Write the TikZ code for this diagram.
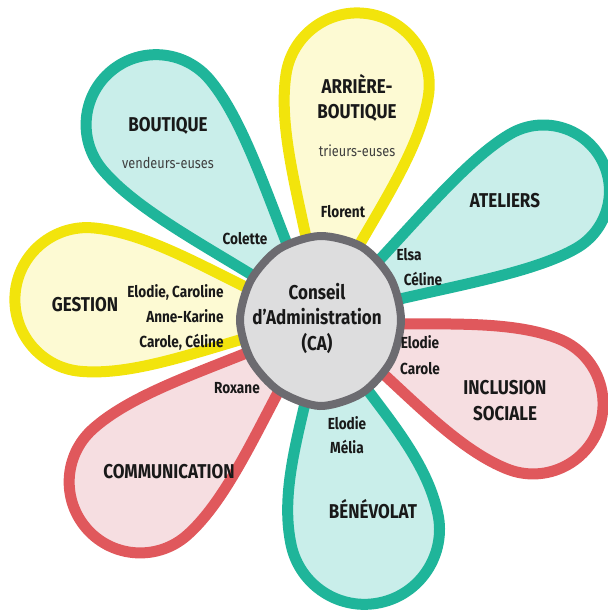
\documentclass[tikz,border=0pt]{standalone}
\usepackage{fontspec}
\setmainfont{Fira Sans}[FakeStretch=0.85]
\usetikzlibrary{positioning}
\definecolor{bleubord}{HTML}{1FB59A}
\definecolor{bleufond}{HTML}{C9EEEA}
\definecolor{jaunebord}{HTML}{F2E40C}
\definecolor{jaunefond}{HTML}{FDFAD3}
\definecolor{rougebord}{HTML}{E0585C}
\definecolor{rougefond}{HTML}{F6DEE1}
\definecolor{grisbord}{HTML}{6C6B70}
\definecolor{grisfond}{HTML}{DDDDDE}
\tikzset{
  every node/.style={text=black!90, inner sep=0pt, text height=0.75em, text depth=0.25em},
  petale/.style={line width=5.5pt, line join=round},
  bleu/.style={petale, draw=bleubord, fill=bleufond},
  jaune/.style={petale, draw=jaunebord, fill=jaunefond},
  rouge/.style={petale, draw=rougebord, fill=rougefond},
  coeur/.style={draw=grisbord, fill=grisfond, line width=4pt},
  titre/.style={font=\bfseries\fontsize{10}{12}\selectfont},
  membre/.style={font=\bfseries\fontsize{8}{10}\selectfont},
  role/.style={font=\fontsize{7.5}{9}\selectfont, text=black!75}
}
% petale: angle, distance, rayon, style
\newcommand{\petale}[4]{%
  \begin{scope}[shift={(320,320)}, rotate=#1]
    \filldraw[#4] (0,0) .. controls (0.35*#2, 0.3*#3) and (#2-0.95*#3, #3) .. (#2, #3)
      arc[start angle=90, end angle=-90, radius=#3]
      .. controls (#2-0.95*#3, -#3) and (0.35*#2, -0.3*#3) .. cycle;
  \end{scope}}

\begin{document}
\begin{tikzpicture}[x=0.5pt, y=-0.5pt]
  \useasboundingbox (0,0) rectangle (608,612);
  % Petales
  \petale{30}{258}{66}{bleu}
  \petale{-21.5}{229}{70}{rouge}
  \petale{-78}{214}{75}{bleu}
  \petale{175}{234}{72}{jaune}
  \petale{-138}{242}{71}{rouge}
  \petale{81}{238}{72}{jaune}
  \petale{130}{255}{70}{bleu}
  % Coeur
  \filldraw[coeur] plot[smooth cycle] coordinates {(401,320) (391,279) (362,247) (320,236) (279,249) (251,280) (240,320) (251,360) (279,391) (320,406) (362,393) (391,361)};
  \node[align=center, font=\bfseries\fontsize{10}{12.75}\selectfont, text height=, text depth=] (ca) at (317,318) {Conseil\\d'Administration\\(CA)};

  % Nodes
  \node[titre] (boutique) at (168,126) {BOUTIQUE};
  \node[role, below=8.5pt of boutique] (vendeurs) {vendeurs-euses};
  \node[membre] (colette) at (245,239) {Colette};

  \node[titre] (arriere) at (357,88) {ARRIÈRE-};
  \node[titre, below=2.5pt of arriere] (arriereb) {BOUTIQUE};
  \node[role, below=8.5pt of arriereb] (trieurs) {trieurs-euses};
  \node[membre] (florent) at (343,212) {Florent};

  \node[titre] (ateliers) at (505,202) {ATELIERS};
  \node[membre] (elsa) at (409,255) {Elsa};
  \node[membre, below=2.5pt of elsa, xshift=7pt] (celine) {Céline};

  \node[titre] (inclusion) at (505,389) {INCLUSION};
  \node[titre, below=3pt of inclusion] (sociale) {SOCIALE};
  \node[membre] (elodiei) at (420,343) {Elodie};
  \node[membre, below=3pt of elodiei] (carolei) {Carole};

  \node[titre] (benevolat) at (373,513) {BÉNÉVOLAT};
  \node[membre] (elodieb) at (347,424) {Elodie};
  \node[membre, below=2pt of elodieb] (melia) {Mélia};

  \node[titre] (communication) at (169,473) {COMMUNICATION};
  \node[membre] (roxane) at (237,388) {Roxane};

  \node[titre] (gestion) at (85,306) {GESTION};
  \node[membre, anchor=east] (elodieg) at (224,292) {Elodie, Caroline};
  \node[membre, anchor=north east] (annek) at ([yshift=-2.25pt]elodieg.south east) {Anne-Karine};
  \node[membre, anchor=north east] (carolec) at ([yshift=-2.25pt]annek.south east) {Carole, Céline};
\end{tikzpicture}
\end{document}
